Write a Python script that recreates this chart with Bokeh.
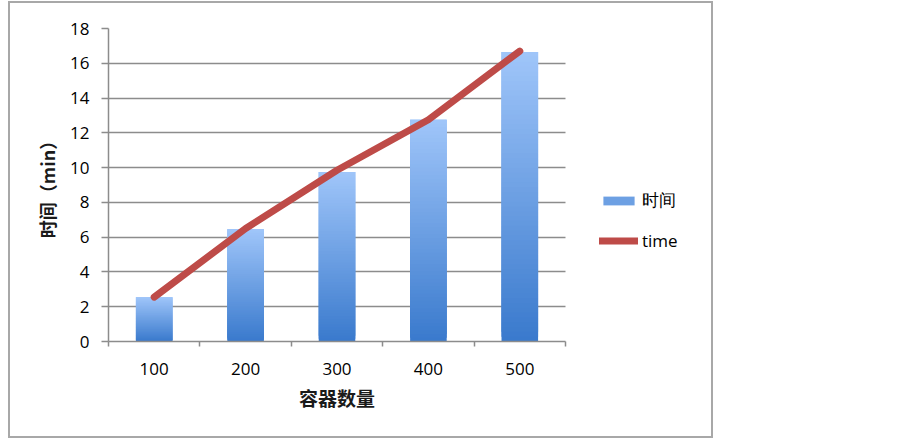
from bokeh.plotting import figure
from bokeh.models import (ColumnDataSource, Range1d, FixedTicker, Legend, LegendItem, Title)
from bokeh.embed import file_html
from bokeh.resources import INLINE

# ---- data ----
categories = ["100", "200", "300", "400", "500"]
bar_values = [2.55, 6.45, 9.75, 12.75, 16.65]
line_values = [2.55, 6.5, 9.85, 12.75, 16.7]
y_ticks = [0, 2, 4, 6, 8, 10, 12, 14, 16, 18]
bar_label = "时间"
line_label = "time"
x_title = "容器数量"
y_title = "时间（min）"

xs = list(range(1, len(categories) + 1))
x_lo, x_hi = 0.5, len(categories) + 0.5

# gradient bands for bars (light top -> dark bottom)
top_rgb = (160, 198, 250)
bot_rgb = (58, 122, 205)
N = 60
bx, bb, bt, bc = [], [], [], []
for x, v in zip(xs, bar_values):
    for k in range(N):
        f = (k + 0.5) / N
        r = int(bot_rgb[0] + (top_rgb[0] - bot_rgb[0]) * f)
        g = int(bot_rgb[1] + (top_rgb[1] - bot_rgb[1]) * f)
        b = int(bot_rgb[2] + (top_rgb[2] - bot_rgb[2]) * f)
        bx.append(x)
        bb.append(v * k / N)
        bt.append(min(v, v * (k + 3) / N))
        bc.append("#%02x%02x%02x" % (r, g, b))
band_src = ColumnDataSource(dict(x=bx, bottom=bb, top=bt, color=bc))

W, H = 701, 433
left_b, right_b, top_b, bottom_b = 98, 4, 25, 95
frame_w = W - left_b - right_b
plot_w = 457  # px of the frame that covers the five categories
x_end = x_lo + (x_hi - x_lo) * frame_w / plot_w

p = figure(width=W, height=H, output_backend="svg", toolbar_location=None,
           x_range=Range1d(x_lo, x_end), y_range=Range1d(0, 18),
           min_border_left=left_b, min_border_right=right_b, min_border_top=top_b,
           min_border_bottom=bottom_b)
p.styles = {"box-shadow": "0 0 0 2px #a8a8a8",
            "margin-left": "10px", "margin-top": "3px"}
p.outline_line_color = None
p.background_fill_color = "white"
p.border_fill_color = "white"

bars = p.vbar(x="x", bottom="bottom", top="top", width=0.4, source=band_src,
              fill_color="color", line_color=None)
ln = p.line(xs, line_values, line_color="#BE4B48", line_width=7, line_cap="round",
            line_join="round")

# axes
p.xaxis.ticker = FixedTicker(ticks=xs, minor_ticks=[x - 0.5 for x in xs] + [xs[-1] + 0.5])
p.xaxis.bounds = (x_lo, x_hi)
p.xaxis.major_label_overrides = {x: c for x, c in zip(xs, categories)}
p.xaxis.major_tick_out = 0
p.xaxis.major_tick_in = 0
p.xaxis.minor_tick_out = 5
p.xaxis.minor_tick_in = 0
p.xaxis.minor_tick_line_color = "#8c8c8c"
p.xaxis.minor_tick_line_width = 1.5
p.xaxis.axis_line_color = "#8c8c8c"
p.xaxis.axis_line_width = 1.5
p.xaxis.major_label_standoff = 16

p.yaxis.ticker = FixedTicker(ticks=y_ticks, minor_ticks=[])
p.yaxis.major_tick_out = 7
p.yaxis.major_tick_in = 0
p.yaxis.major_tick_line_color = "#8c8c8c"
p.yaxis.major_tick_line_width = 1.5
p.yaxis.axis_line_color = "#8c8c8c"
p.yaxis.axis_line_width = 1.5
p.yaxis.major_label_standoff = 12
p.yaxis.axis_label = y_title
p.yaxis.axis_label_standoff = 7
p.yaxis.axis_label_text_font = "Noto Sans CJK SC"
p.yaxis.axis_label_text_font_size = "18px"
p.yaxis.axis_label_text_font_style = "bold"
p.yaxis.axis_label_text_color = "#1a1a1a"

for ax in (p.xaxis, p.yaxis):
    ax.major_label_text_font = "Open Sans"
    ax.major_label_text_font_size = "17px"
    ax.major_label_text_color = "black"

# x axis title centred under the five categories (not under the legend area)
title_w = 4 * 19  # four CJK glyphs at 19px
xt = Title(text=x_title, align="left", offset=(plot_w - title_w) / 2.0, standoff=8,
           text_font="Noto Sans CJK SC", text_font_size="19px", text_font_style="bold",
           text_color="#1a1a1a")
p.add_layout(xt, "below")

p.xgrid.grid_line_color = None
p.ygrid.grid_line_color = "#8c8c8c"
p.ygrid.grid_line_width = 1.5
p.ygrid.cross_bounds = (x_lo, x_hi)

legend = Legend(items=[LegendItem(label=bar_label, renderers=[bars], index=N // 2),
                       LegendItem(label=line_label, renderers=[ln])],
                location=(491, 89), orientation="vertical",
                glyph_width=39, glyph_height=11, label_height=20, spacing=17,
                padding=0, margin=0, label_standoff=4,
                border_line_color=None, background_fill_alpha=0,
                label_text_font="Open Sans", label_text_font_size="17px",
                label_text_color="black")
p.add_layout(legend, "center")

open("out.html", "w").write(file_html(p, INLINE))
